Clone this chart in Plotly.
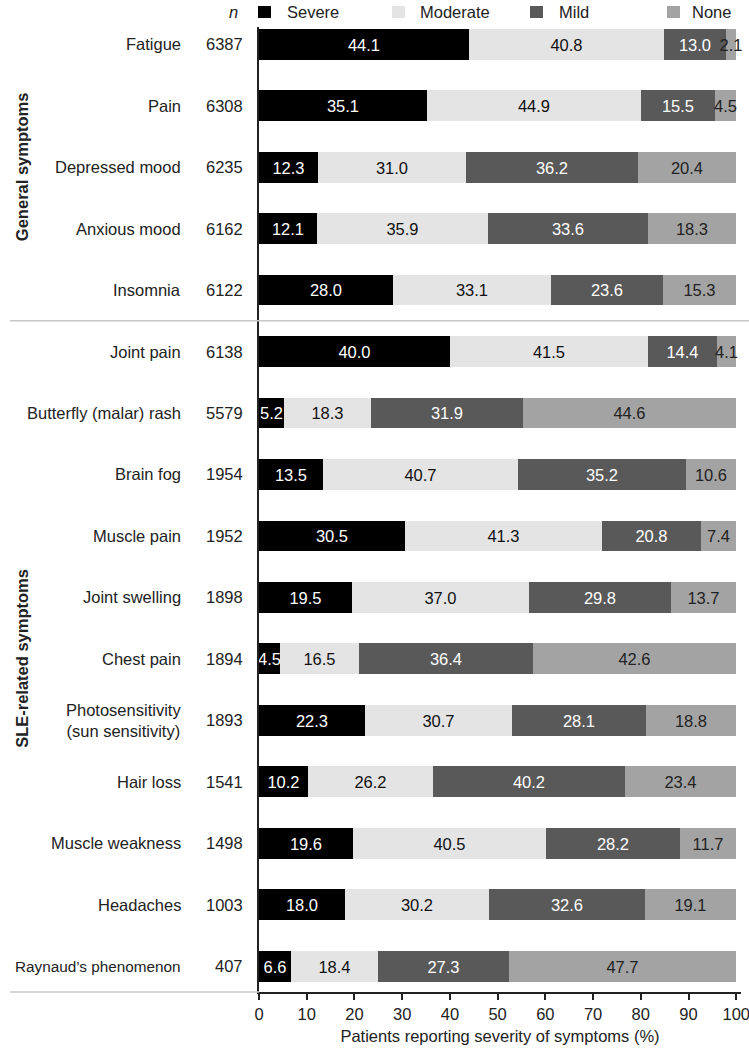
import plotly.graph_objects as go

categories = ["Fatigue", "Pain", "Depressed mood", "Anxious mood", "Insomnia",
              "Joint pain", "Butterfly (malar) rash", "Brain fog", "Muscle pain",
              "Joint swelling", "Chest pain", "Photosensitivity<br>(sun sensitivity)",
              "Hair loss", "Muscle weakness", "Headaches", "Raynaud\u2019s phenomenon"]
n_values = [6387, 6308, 6235, 6162, 6122, 6138, 5579, 1954, 1952, 1898, 1894, 1893,
            1541, 1498, 1003, 407]
severe = [44.1, 35.1, 12.3, 12.1, 28.0, 40.0, 5.2, 13.5, 30.5, 19.5, 4.5, 22.3, 10.2, 19.6, 18.0, 6.6]
moderate = [40.8, 44.9, 31.0, 35.9, 33.1, 41.5, 18.3, 40.7, 41.3, 37.0, 16.5, 30.7, 26.2, 40.5, 30.2, 18.4]
mild = [13.0, 15.5, 36.2, 33.6, 23.6, 14.4, 31.9, 35.2, 20.8, 29.8, 36.4, 28.1, 40.2, 28.2, 32.6, 27.3]
none = [2.1, 4.5, 20.4, 18.3, 15.3, 4.1, 44.6, 10.6, 7.4, 13.7, 42.6, 18.8, 23.4, 11.7, 19.1, 47.7]
series_names = ["Severe", "Moderate", "Mild", "None"]
series_values = [severe, moderate, mild, none]
series_colors = ["#000000", "#e4e4e4", "#595959", "#a3a3a3"]
text_colors = ["#ffffff", "#111111", "#ffffff", "#222222"]
groups = [("General symptoms", 0, 4), ("SLE-related symptoms", 5, 15)]
x_ticks = list(range(0, 101, 10))
x_title = "Patients reporting severity of symptoms (%)"

FONT = "Liberation Sans, Arial, sans-serif"
FS = 16.5
TXT = "#222222"
W, H = 749, 1051
ML, MT = 259, 27
MR = 8
MB = 1051 - 992
X_MAX = 101
Y_RANGE = [15.42, -0.28]
PW = W - ML - MR
PH = H - MT - MB


def px_to_dx(page_x):
    return (page_x - ML) / PW


def py_to_dy(page_y):
    return 1 - (page_y - MT) / PH


ypos = list(range(len(categories)))
fig = go.Figure()
for name, vals, col, tcol in zip(series_names, series_values, series_colors, text_colors):
    fig.add_trace(go.Bar(
        y=ypos, x=vals, name=name, orientation="h",
        marker=dict(color=col, line=dict(width=0)),
        text=[f"{v:.1f}" for v in vals], textposition="inside", textangle=0,
        insidetextanchor="middle", constraintext="none",
        textfont=dict(color=tcol, size=FS, family=FONT),
        width=0.5, showlegend=False, cliponaxis=False, hoverinfo="skip",
    ))

annotations = []
shapes = []
for i, c in enumerate(categories):
    fs = 15.3 if c.startswith("Raynaud") else FS
    annotations.append(dict(x=px_to_dx(183), y=i, xref="x domain", yref="y", text=c,
                            showarrow=False, xanchor="right", yanchor="middle",
                            font=dict(size=fs, family=FONT, color=TXT)))
for i, nv in enumerate(n_values):
    annotations.append(dict(x=px_to_dx(245), y=i, xref="x domain", yref="y", text=str(nv),
                            showarrow=False, xanchor="right", yanchor="middle",
                            font=dict(size=FS, family=FONT, color=TXT)))

for label, a, b in groups:
    annotations.append(dict(x=px_to_dx(22), y=(a + b) / 2, xref="x domain", yref="y",
                            text=f"<b>{label}</b>", textangle=-90, showarrow=False,
                            xanchor="center", yanchor="middle",
                            font=dict(size=FS, family=FONT, color=TXT)))

shapes.append(dict(type="line", xref="x domain", yref="y", x0=px_to_dx(10), x1=px_to_dx(749),
                   y0=4.5, y1=4.5, line=dict(color="#c8c8c8", width=1.5)))
shapes.append(dict(type="line", xref="x domain", yref="y domain", x0=px_to_dx(10), x1=0,
                   y0=0, y1=0, line=dict(color="#c8c8c8", width=1.5)))

legend_sq = [258, 392, 530, 667]
legend_tx = [285, 418, 557, 690]
for name, col, sx, tx in zip(series_names, series_colors, legend_sq, legend_tx):
    shapes.append(dict(type="rect", xref="paper", yref="paper",
                       x0=px_to_dx(sx), x1=px_to_dx(sx + 13),
                       y0=py_to_dy(18), y1=py_to_dy(6),
                       line=dict(width=0), fillcolor=col))
    annotations.append(dict(x=px_to_dx(tx), y=py_to_dy(12), xref="paper", yref="paper",
                            text=name, showarrow=False, xanchor="left", yanchor="middle",
                            font=dict(size=FS, family=FONT, color=TXT)))
annotations.append(dict(x=px_to_dx(233), y=py_to_dy(12), xref="paper", yref="paper",
                        text="<i>n</i>", showarrow=False, xanchor="center", yanchor="middle",
                        font=dict(size=FS, family=FONT, color=TXT)))

fig.update_layout(
    width=W, height=H, autosize=False, barmode="stack", bargap=0,
    margin=dict(l=ML, r=MR, t=MT, b=MB, pad=0, autoexpand=False),
    plot_bgcolor="white", paper_bgcolor="white",
    font=dict(family=FONT, size=FS, color=TXT),
    uniformtext=dict(minsize=FS, mode="show"),
    annotations=annotations, shapes=shapes,
    xaxis=dict(range=[0, X_MAX], tickvals=x_ticks, ticktext=[str(t) for t in x_ticks],
               showgrid=False, zeroline=False, showline=True, linecolor=TXT, linewidth=1.5,
               ticks="outside", ticklen=6, tickcolor=TXT, tickwidth=1.5,
               ticklabeloverflow="allow", automargin=False,
               tickfont=dict(size=FS, family=FONT, color=TXT),
               title=dict(text=x_title, font=dict(size=FS, family=FONT, color=TXT), standoff=9)),
    yaxis=dict(range=Y_RANGE, showticklabels=False, showgrid=False, zeroline=False,
               showline=True, linecolor=TXT, linewidth=1.5, ticks="", automargin=False),
)

fig.write_html("out.html", config={"displayModeBar": False},
               post_script="document.body.style.margin='0';document.body.style.overflow='hidden';")
